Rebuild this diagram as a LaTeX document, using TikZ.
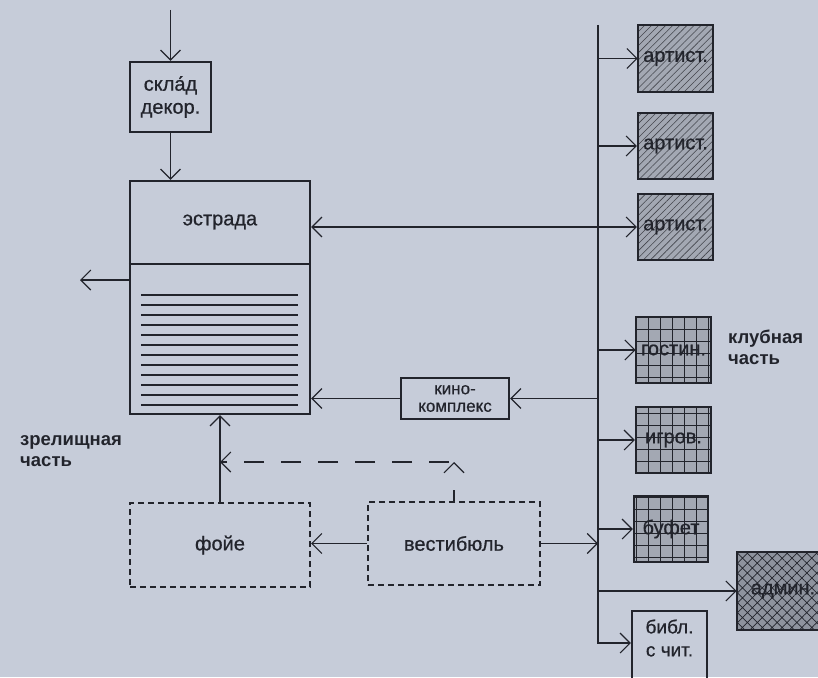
\documentclass[tikz,border=0pt]{standalone}
\usepackage{fontspec}
\setmainfont{Liberation Sans}
\newfontfamily\boxfont{Liberation Sans}[FakeBold=0.6]
\usetikzlibrary{arrows.meta,patterns.meta}
\definecolor{bgc}{HTML}{C6CCD9}
\definecolor{ink}{HTML}{22242C}
\definecolor{boxg}{HTML}{A3A8B3}
\definecolor{boxd}{HTML}{8E939E}
\begin{document}
\begin{tikzpicture}[x=1pt,y=-1pt,
  tip/.tip={Straight Barb[length=10pt,width=20pt,line width=1.1pt]},
  arr/.style={-tip},
  arrboth/.style={tip-tip},
  conn/.style={draw=ink, line width=1.1pt},
  box/.style={draw=ink, line width=2.4pt, inner sep=0pt, text=ink, align=center,
    font=\boxfont\fontsize{20}{23}\selectfont},
  dbox/.style={box, dash pattern=on 6pt off 4pt, line width=2.2pt},
  artbox/.style={box, minimum width=75pt, minimum height=66pt,
    preaction={fill=boxg}, pattern={Lines[angle=45,distance=5pt,line width=0.6pt]}, pattern color=ink!85},
  clubbox/.style={box, minimum width=75pt, minimum height=66pt,
    preaction={fill=boxg}, pattern={Hatch[angle=0,distance=12pt,line width=0.8pt]}, pattern color=ink},
  admbox/.style={box,
    preaction={fill=boxd}, pattern={Hatch[angle=45,distance=7pt,line width=0.7pt]}, pattern color=ink},
  lbl/.style={text=ink, font=\bfseries\fontsize{18.5}{21}\selectfont, align=left, inner sep=0pt},
  txt/.style={text=ink, font=\boxfont\fontsize{20}{23}\selectfont, align=center, inner sep=0pt},
  seat/.style={draw=ink, line width=1.5pt}
]
\useasboundingbox (0,0) rectangle (818,677);
\clip (0,0) rectangle (818,677);
\fill[bgc] (0,0) rectangle (818,677);

% nodes
\node[box, minimum width=81pt, minimum height=70pt] (sklad) at (170.5,97) {скла́д\\декор.};
\node[box, minimum width=180pt, minimum height=233pt] (estr) at (220,297.5) {};
\node[txt] (estrlbl) at (220,222) {эстрада};
\draw[ink, line width=1.3pt] (estr.west |- 0,264) -- (estr.east |- 0,264);
\foreach \i in {0,...,11} \draw[seat] (141,{295+\i*10}) -- (298,{295+\i*10});

\node[box, minimum width=108pt, minimum height=41pt, font=\boxfont\fontsize{17}{17.5}\selectfont] (kino) at (455,398.5) {кино-\\комплекс};
\node[dbox, minimum width=180pt, minimum height=84pt] (foyer) at (220,545) {фойе};
\node[dbox, minimum width=172pt, minimum height=83pt] (vest) at (454,543.5) {вестибюль};

\node[artbox, minimum height=67pt] (art1) at (675.5,58.5) {артист.};
\node[artbox] (art2) at (675.5,146) {артист.};
\node[artbox] (art3) at (675.5,227) {артист.};

\node[clubbox] (gost) at (673.5,350) {гостин.};
\node[clubbox] (igr) at (673.5,440) {игров.};
\node[clubbox, minimum width=74pt] (buf) at (671,529) {буфет};
\node[admbox, minimum width=92pt, minimum height=78pt] (adm) at (783,591) {админ.};
\node[box, minimum width=75pt, minimum height=80pt] (bibl) at (669.5,651) {};
\node[txt, font=\boxfont\fontsize{19}{23}\selectfont] (bibltxt) at (669.5,638) {библ.\\с чит.};

\node[lbl, anchor=west] (club) at (728,347) {клубная\\часть};
\node[lbl, anchor=west] (zrel) at (20,451) {зрелищная\\часть};

% coordinates
\coordinate (topin) at (170.5,10);
\coordinate (leftend) at (80,280);
\coordinate (busT) at (598,25);
\coordinate (busB) at (598,643);
\coordinate (dc) at (454,462);

% connectors
\draw[conn,arr] (topin) -- (sklad.north);
\draw[conn,arr] (sklad.south) -- (sklad.south |- estr.north);
\draw[conn,arr] (estr.west |- leftend) -- (leftend);
\draw[conn,arrboth] (art3.west -| estr.east) -- (art3.west);

\draw[conn,arr] (busT) -- (busB) -- (busB -| bibl.west);
\draw[conn,arr] (art1.west -| busT) -- (art1.west);
\draw[conn,arr] (art2.west -| busT) -- (art2.west);
\draw[conn,arr] (gost.west -| busT) -- (gost.west);
\draw[conn,arr] (igr.west -| busT) -- (igr.west);
\draw[conn,arr] (buf.west -| busT) -- (buf.west);
\draw[conn,arr] (adm.west -| busT) -- (adm.west);

\draw[conn,arr] (kino.east -| busT) -- (kino.east);
\draw[conn,arr] (kino.west) -- (kino.west -| estr.east);
\draw[conn,arr] (vest.east) -- (vest.east -| busT);
\draw[conn,arr] (vest.west) -- (vest.west -| foyer.east);
\draw[conn,arr] (foyer.north) -- (foyer.north |- estr.south);

\draw[conn,arr,dash pattern=on 11pt off 40pt] (vest.north) -- (dc);
\draw[conn,arr,dash pattern=on 20pt off 17pt, dash phase=-5pt] (dc) -- (dc -| foyer.north);
\end{tikzpicture}
\end{document}
